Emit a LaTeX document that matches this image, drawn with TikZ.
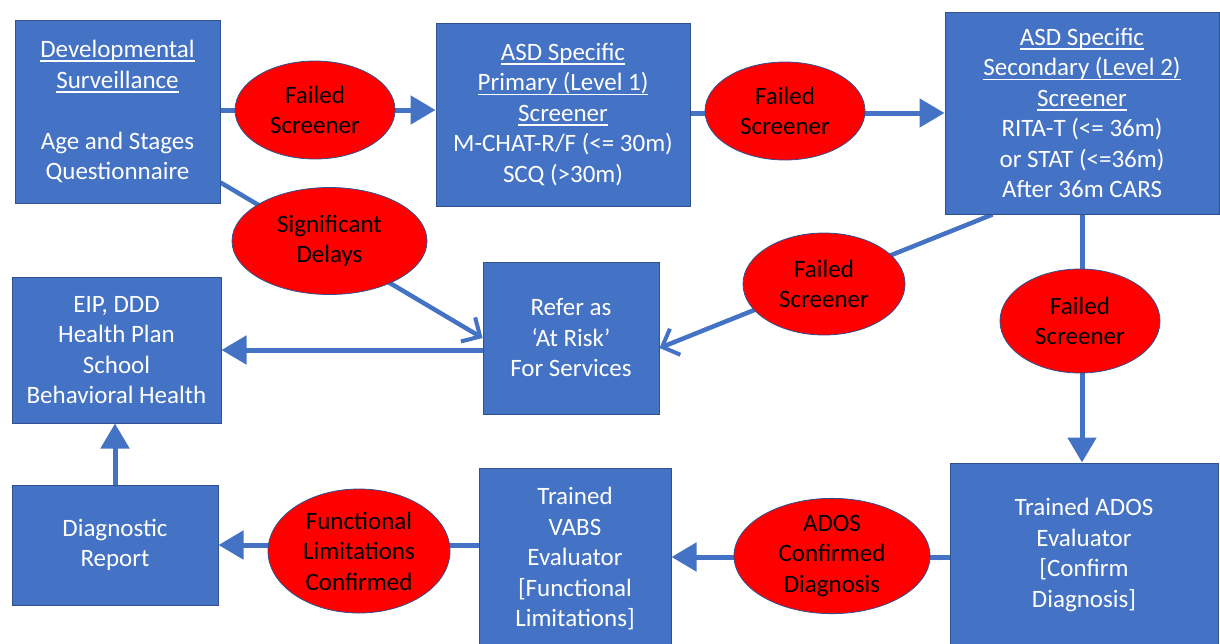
\documentclass[tikz,border=0pt]{standalone}
\usepackage{fontspec}
\setmainfont{Carlito}
\usetikzlibrary{shapes.geometric,arrows.meta,calc,backgrounds}
\definecolor{boxblue}{HTML}{4472C4}
\definecolor{boxedge}{HTML}{2F528F}
\definecolor{arrowblue}{HTML}{4472C4}
\newcommand{\mainfs}{\fontsize{25}{30.5}\selectfont}
\newcommand{\ulin}[1]{\setbox0\hbox{#1}\rlap{\rule[-4.5pt]{\wd0}{1.6pt}}\box0}
\tikzset{
  x=1pt, y=-1pt,
  box/.style={draw=boxedge, fill=boxblue, line width=1pt, text=white, align=center, inner sep=0pt, font=\mainfs},
  ell/.style={ellipse, draw=boxedge, fill=red, line width=0.8pt, text=black, align=center, inner sep=0pt, font=\mainfs},
  tri/.style={draw=arrowblue, line width=5pt, -{Triangle[length=25pt,width=28pt]}},
  barb/.style={draw=arrowblue, line width=4.5pt, -{Straight Barb[length=14pt,width=28pt,line width=4pt]}},
}
\begin{document}
\begin{tikzpicture}
\useasboundingbox (0,0) rectangle (1220,643);
\clip (0,0) rectangle (1220,643);
% boxes
\node[box, minimum width=205, minimum height=183] (dev) at (117.5,111.5)
  {\ulin{Developmental}\\\ulin{Surveillance}\\[30.5pt]Age and Stages\\Questionnaire};
\node[box, minimum width=254, minimum height=183] (prim) at (563,114.5)
  {\ulin{ASD Specific}\\\ulin{Primary (Level 1)}\\\ulin{Screener}\\M-CHAT-R/F (<= 30m)\\SCQ (>30m)};
\node[box, minimum width=274, minimum height=202] (sec) at (1082,113)
  {\ulin{ASD Specific}\\\ulin{Secondary (Level 2)}\\\ulin{Screener}\\RITA-T (<= 36m)\\or STAT (<=36m)\\After 36m CARS};
\node[box, minimum width=209, minimum height=146] (eip) at (116.5,350)
  {EIP, DDD\\Health Plan\\School\\Behavioral Health};
\node[box, minimum width=176, minimum height=152] (refer) at (571,338)
  {Refer as\\‘At Risk’\\For Services};
\node[box, minimum width=206, minimum height=120] (diag) at (115,545)
  {Diagnostic\\Report};
\node[box, minimum width=192, minimum height=182] (vabs) at (575,559)
  {Trained\\VABS\\Evaluator\\{[}Functional\\Limitations]};
\node[box, minimum width=268, minimum height=184] (ados) at (1084,555)
  {Trained ADOS\\Evaluator\\{[}Confirm\\Diagnosis]};
% ellipses
\node[ell, minimum width=160, minimum height=98] (fs1) at (315,110) {Failed\\Screener};
\node[ell, minimum width=160, minimum height=98] (fs2) at (785,111) {Failed\\Screener};
\node[ell, minimum width=195, minimum height=107] (sig) at (329.5,241) {Significant\\Delays};
\node[ell, minimum width=162, minimum height=102] (fs3) at (824,284) {Failed\\Screener};
\node[ell, minimum width=160, minimum height=104] (fs4) at (1080,321) {Failed\\Screener};
\node[ell, minimum width=182, minimum height=124] (fl) at (359,551) {Functional\\Limitations\\Confirmed};
\node[ell, minimum width=196, minimum height=110] (adc) at (832,556) {ADOS\\Confirmed\\Diagnosis};
% connectors
\begin{pgfonlayer}{background}
\draw[tri] (dev.east |- fs1.center) -- (prim.west |- fs1.center);
\draw[tri] ($(prim.east |- fs2.center)+(0,2)$) -- ($(sec.west |- fs2.center)+(0,2)$);
\draw[barb] ($(dev.south east)+(0,-21)$) -- (refer.west);
\draw[tri] (refer.west |- eip.east) -- (eip.east);
\draw[barb] ($(sec.south west)+(48,0)$) -- ($(refer.east)+(0,10)$);
\draw[tri] (sec.south) -- (sec.south |- ados.north);
\draw[tri] ($(ados.west |- adc.center)+(0,1)$) -- ($(vabs.east |- adc.center)+(0,1)$);
\draw[tri] (vabs.west |- diag.east) -- (diag.east);
\draw[tri] (diag.north) -- (diag.north |- eip.south);
\end{pgfonlayer}
\end{tikzpicture}
\end{document}
